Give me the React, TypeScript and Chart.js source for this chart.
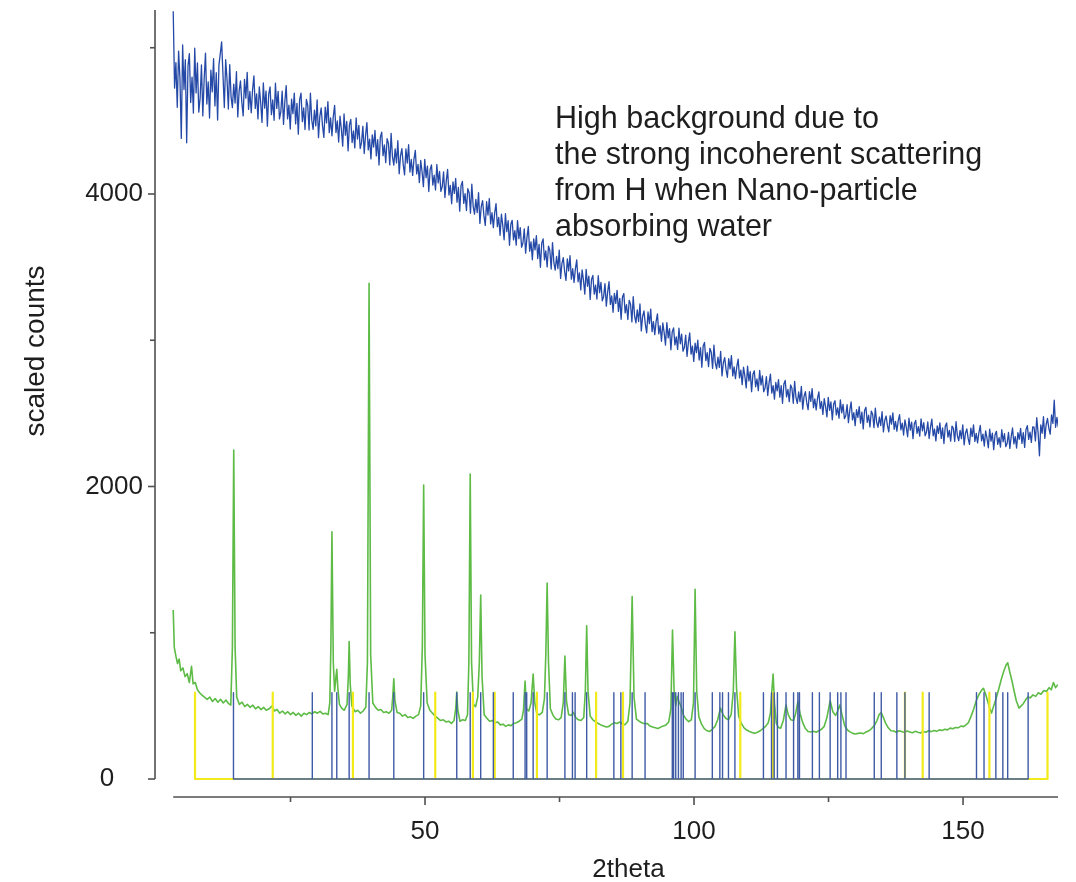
import React, { useEffect, useRef } from 'react';
import { Chart, registerables } from 'chart.js';

Chart.register(...registerables);

// ---- axis ranges & ticks ----
const X_MIN = -0.186;
const X_MAX = 167.65;
const Y_MIN = -123;
const Y_MAX = 5258;
const X_AXIS_START = 3.2;
const xMajorTicks = [50, 100, 150];
const xMinorTicks = [25, 75, 125];
const yMajorTicks = [0, 2000, 4000];
const yMinorTicks = [1000, 3000, 5000];
const xTitle = '2theta';
const yTitle = 'scaled counts';
const annotationLines = [
  'High background due to',
  'the strong incoherent scattering',
  'from H when Nano-particle',
  'absorbing water',
];

// ---- blue (water-loaded sample) scan: 2theta start/step + counts ----
const blueStart = 3.2;
const blueStep = 0.25;
const blueCounts = [
  5250, 4724, 4898, 4593, 4977, 4791, 4380, 5019, 4714, 4918, 4350, 4876, 4960, 4625, 4799, 4553, 4997, 4691, 4896, 4560,
  4655, 4882, 4534, 4786, 4963, 4615, 4767, 4519, 4846, 4698, 4925, 4602, 4829, 4506, 4883, 4960, 5040, 4814, 4591, 4918,
  4782, 4581, 4885, 4666, 4591, 4751, 4622, 4836, 4527, 4704, 4774, 4627, 4534, 4784, 4655, 4832, 4578, 4701, 4555, 4714,
  4808, 4585, 4685, 4513, 4732, 4627, 4489, 4759, 4587, 4704, 4464, 4683, 4732, 4543, 4643, 4504, 4757, 4585, 4702, 4513,
  4562, 4703, 4476, 4632, 4741, 4514, 4607, 4444, 4649, 4549, 4690, 4479, 4620, 4409, 4646, 4690, 4495, 4588, 4441, 4646,
  4605, 4437, 4689, 4505, 4442, 4574, 4466, 4643, 4385, 4531, 4588, 4465, 4387, 4594, 4486, 4632, 4419, 4521, 4398, 4530,
  4606, 4420, 4499, 4355, 4532, 4444, 4327, 4547, 4402, 4496, 4295, 4473, 4510, 4352, 4431, 4315, 4520, 4376, 4469, 4311,
  4351, 4463, 4277, 4402, 4488, 4301, 4375, 4240, 4404, 4321, 4434, 4260, 4372, 4198, 4389, 4423, 4262, 4335, 4214, 4378,
  4347, 4199, 4415, 4254, 4197, 4309, 4213, 4364, 4138, 4263, 4310, 4201, 4131, 4308, 4212, 4337, 4150, 4236, 4127, 4239,
  4298, 4137, 4203, 4078, 4229, 4152, 4050, 4237, 4112, 4190, 4017, 4168, 4199, 4061, 4128, 4027, 4202, 4076, 4155, 4018,
  4049, 4151, 3976, 4090, 4168, 3993, 4059, 3933, 4082, 4004, 4106, 3944, 4045, 3883, 4057, 4086, 3936, 4002, 3887, 4037,
  4008, 3869, 4067, 3916, 3862, 3963, 3873, 4010, 3799, 3913, 3954, 3852, 3785, 3947, 3856, 3969, 3795, 3872, 3770, 3871,
  3934, 3777, 3840, 3718, 3862, 3785, 3687, 3865, 3742, 3817, 3649, 3793, 3820, 3686, 3750, 3650, 3817, 3695, 3770, 3636,
  3665, 3762, 3595, 3703, 3778, 3609, 3673, 3550, 3693, 3618, 3715, 3559, 3656, 3499, 3666, 3693, 3549, 3611, 3501, 3644,
  3614, 3487, 3668, 3530, 3480, 3573, 3490, 3616, 3423, 3526, 3564, 3470, 3409, 3557, 3474, 3578, 3418, 3489, 3395, 3488,
  3549, 3400, 3460, 3344, 3481, 3409, 3315, 3485, 3369, 3439, 3279, 3416, 3443, 3316, 3376, 3282, 3441, 3325, 3396, 3269,
  3298, 3387, 3233, 3332, 3400, 3245, 3303, 3191, 3321, 3252, 3341, 3197, 3286, 3143, 3295, 3319, 3187, 3244, 3142, 3273,
  3247, 3125, 3298, 3167, 3119, 3208, 3128, 3248, 3064, 3164, 3200, 3109, 3051, 3193, 3113, 3213, 3059, 3127, 3038, 3127,
  3180, 3044, 3099, 2993, 3118, 3052, 2967, 3121, 3016, 3080, 2935, 3059, 3084, 2968, 3023, 2937, 3082, 2976, 3041, 2925,
  2950, 3035, 2890, 2985, 3050, 2905, 2960, 2855, 2980, 2915, 3000, 2865, 2950, 2815, 2960, 2985, 2860, 2915, 2820, 2945,
  2918, 2808, 2966, 2847, 2804, 2885, 2814, 2923, 2756, 2847, 2881, 2799, 2747, 2875, 2804, 2895, 2756, 2818, 2738, 2819,
  2871, 2743, 2796, 2696, 2816, 2754, 2674, 2823, 2722, 2785, 2648, 2768, 2791, 2682, 2736, 2655, 2794, 2694, 2757, 2648,
  2673, 2751, 2622, 2709, 2768, 2639, 2690, 2597, 2711, 2654, 2731, 2611, 2689, 2569, 2701, 2725, 2613, 2664, 2580, 2694,
  2671, 2569, 2719, 2607, 2568, 2646, 2580, 2685, 2529, 2616, 2648, 2573, 2525, 2648, 2582, 2669, 2539, 2599, 2524, 2602,
  2647, 2533, 2581, 2493, 2601, 2547, 2476, 2610, 2521, 2578, 2456, 2564, 2586, 2489, 2538, 2467, 2592, 2504, 2561, 2464,
  2484, 2559, 2437, 2520, 2578, 2455, 2505, 2416, 2525, 2472, 2546, 2433, 2508, 2394, 2520, 2542, 2438, 2487, 2407, 2516,
  2492, 2402, 2536, 2438, 2405, 2475, 2417, 2511, 2373, 2451, 2482, 2416, 2374, 2484, 2426, 2504, 2391, 2445, 2379, 2449,
  2492, 2387, 2433, 2352, 2455, 2405, 2340, 2467, 2385, 2440, 2327, 2429, 2452, 2363, 2409, 2344, 2463, 2381, 2436, 2347,
  2371, 2441, 2328, 2406, 2461, 2347, 2393, 2312, 2414, 2364, 2435, 2329, 2400, 2294, 2413, 2435, 2337, 2384, 2310, 2413,
  2397, 2308, 2443, 2346, 2313, 2384, 2327, 2422, 2285, 2364, 2394, 2329, 2288, 2399, 2342, 2421, 2308, 2363, 2298, 2369,
  2417, 2312, 2358, 2277, 2380, 2330, 2265, 2392, 2310, 2365, 2252, 2354, 2377, 2288, 2334, 2269, 2388, 2306, 2361, 2272,
  2296, 2370, 2260, 2342, 2400, 2291, 2341, 2263, 2369, 2323, 2397, 2295, 2369, 2267, 2390, 2416, 2322, 2372, 2302, 2408,
  2406, 2312, 2470, 2367, 2210, 2422, 2364, 2477, 2329, 2424, 2465, 2398, 2358, 2489, 2431, 2590, 2405, 2473, 2406,
];

// ---- green (dry sample) scan: [2theta, counts] ----
const greenScan: [number, number][] = [
  [3.2, 1155], [3.4, 900], [3.7, 840], [4.0, 790], [4.3, 820], [4.6, 740], [5.0, 760], [5.4, 700],
  [5.8, 720], [6.2, 660], [6.6, 770], [6.9, 650], [7.3, 660], [7.7, 610], [8.1, 590], [8.5, 575],
  [9.0, 560], [9.5, 545], [10.0, 560], [10.5, 530], [11.0, 550], [11.5, 525], [12.0, 545], [12.5, 520],
  [13.0, 540], [13.5, 515], [13.9, 505], [14.2, 900], [14.45, 2250], [14.7, 900], [15.0, 560], [15.5, 510],
  [16.0, 525], [16.5, 495], [17.0, 510], [17.5, 490], [18.0, 505], [18.5, 480], [19.0, 495], [19.5, 475],
  [20.0, 490], [20.5, 470], [21.0, 480], [21.6, 500], [22.0, 465], [22.5, 475], [23.0, 450], [23.5, 465],
  [24.0, 445], [24.5, 460], [25.0, 440], [25.5, 455], [26.0, 435], [26.5, 450], [27.0, 430], [27.5, 450],
  [28.0, 440], [28.5, 455], [29.0, 445], [29.5, 460], [30.0, 450], [30.5, 462], [31.0, 445], [31.5, 450],
  [32.0, 440], [32.3, 520], [32.5, 900], [32.7, 1690], [32.95, 800], [33.2, 600], [33.45, 700], [33.6, 750],
  [33.8, 620], [34.1, 510], [34.5, 485], [35.0, 470], [35.5, 510], [35.75, 700], [35.9, 940], [36.1, 650],
  [36.4, 500], [37.0, 460], [37.5, 470], [38.0, 450], [38.5, 465], [39.0, 490], [39.3, 800], [39.6, 3390],
  [39.9, 850], [40.3, 520], [40.8, 490], [41.3, 470], [41.8, 475], [42.3, 455], [42.8, 460], [43.3, 450],
  [43.8, 470], [44.0, 560], [44.2, 685], [44.4, 540], [44.8, 455], [45.3, 450], [45.8, 430], [46.3, 440],
  [46.8, 420], [47.3, 425], [47.8, 415], [48.3, 430], [48.8, 440], [49.2, 500], [49.5, 900], [49.75, 2010],
  [50.0, 850], [50.4, 520], [50.9, 470], [51.4, 450], [51.9, 430], [52.4, 415], [52.9, 400], [53.4, 405],
  [53.9, 390], [54.4, 395], [54.9, 380], [55.4, 400], [55.7, 480], [55.9, 595], [56.1, 470], [56.5, 395],
  [57.0, 405], [57.5, 400], [57.9, 440], [58.15, 800], [58.4, 2085], [58.65, 800], [59.0, 510], [59.4, 495],
  [59.8, 560], [60.1, 800], [60.35, 1258], [60.6, 700], [61.0, 440], [61.5, 415], [62.0, 395], [62.5, 400],
  [63.0, 385], [63.5, 390], [64.0, 370], [64.5, 375], [65.0, 360], [65.5, 370], [66.0, 365], [66.5, 380],
  [67.0, 385], [67.5, 395], [68.0, 410], [68.3, 470], [68.6, 670], [68.85, 480], [69.3, 465], [69.7, 520],
  [70.1, 718], [70.4, 520], [70.8, 445], [71.3, 440], [71.8, 455], [72.2, 550], [72.45, 850], [72.7, 1340],
  [72.95, 800], [73.3, 480], [73.8, 435], [74.3, 410], [74.8, 405], [75.3, 420], [75.7, 520], [76.0, 840],
  [76.3, 530], [76.7, 440], [77.2, 435], [77.6, 455], [78.0, 420], [78.5, 405], [79.0, 400], [79.5, 420],
  [79.8, 600], [80.05, 1048], [80.3, 600], [80.7, 430], [81.2, 405], [81.7, 390], [82.2, 380], [82.7, 370],
  [83.2, 362], [83.7, 355], [84.2, 360], [84.7, 375], [85.2, 385], [85.7, 380], [86.2, 390], [86.7, 375],
  [87.2, 372], [87.7, 395], [88.1, 520], [88.5, 1247], [88.85, 560], [89.3, 410], [89.8, 395], [90.3, 385],
  [90.8, 378], [91.3, 380], [91.8, 362], [92.3, 355], [92.8, 350], [93.3, 345], [93.8, 355], [94.3, 362],
  [94.8, 370], [95.3, 390], [95.7, 480], [96.0, 1019], [96.3, 600], [96.6, 500], [96.9, 565], [97.2, 530],
  [97.6, 495], [98.0, 440], [98.5, 410], [99.0, 392], [99.5, 405], [99.9, 520], [100.2, 1297], [100.5, 600],
  [100.9, 425], [101.4, 375], [101.9, 345], [102.4, 330], [102.9, 325], [103.4, 340], [103.9, 360], [104.4, 405],
  [104.9, 485], [105.4, 440], [105.9, 415], [106.4, 405], [106.9, 440], [107.3, 600], [107.6, 1007], [107.9, 620],
  [108.3, 430], [108.8, 380], [109.3, 350], [109.8, 335], [110.3, 325], [110.8, 318], [111.3, 312], [111.8, 320],
  [112.3, 330], [112.8, 345], [113.3, 360], [113.8, 385], [114.2, 450], [114.5, 620], [114.7, 718], [114.95, 520],
  [115.3, 380], [115.7, 352], [116.1, 348], [116.6, 400], [117.1, 506], [117.5, 440], [118.0, 405], [118.5, 400],
  [118.9, 450], [119.3, 529], [119.7, 450], [120.2, 385], [120.7, 345], [121.2, 325], [121.7, 322], [122.2, 326],
  [122.7, 320], [123.2, 330], [123.7, 340], [124.2, 360], [124.7, 420], [125.3, 535], [125.8, 460], [126.3, 435],
  [126.7, 465], [127.1, 506], [127.5, 440], [128.0, 365], [128.5, 335], [129.0, 322], [129.5, 312], [130.0, 308],
  [130.5, 312], [131.0, 315], [131.5, 310], [132.0, 322], [132.5, 330], [133.0, 345], [133.5, 365], [134.0, 400],
  [134.4, 440], [134.8, 455], [135.2, 420], [135.6, 382], [136.1, 350], [136.6, 330], [137.1, 328], [137.6, 320],
  [138.1, 330], [138.6, 325], [139.1, 318], [139.6, 328], [140.1, 322], [140.6, 316], [141.1, 326], [141.6, 320],
  [142.1, 315], [142.6, 325], [143.1, 320], [143.6, 330], [144.1, 324], [144.6, 332], [145.1, 326], [145.6, 336],
  [146.1, 332], [146.6, 340], [147.1, 336], [147.6, 348], [148.1, 344], [148.6, 352], [149.1, 350], [149.6, 362],
  [150.1, 358], [150.6, 372], [151.0, 385], [151.5, 430], [152.0, 480], [152.5, 540], [153.0, 580], [153.5, 610],
  [153.8, 620], [154.2, 580], [154.6, 530], [155.0, 480], [155.3, 451], [155.7, 500], [156.1, 545], [156.6, 610],
  [157.1, 680], [157.6, 740], [158.0, 780], [158.3, 795], [158.7, 730], [159.1, 670], [159.5, 600], [159.9, 535],
  [160.4, 485], [160.8, 500], [161.2, 515], [161.6, 540], [162.0, 560], [162.5, 555], [163.0, 575], [163.5, 565],
  [164.0, 590], [164.5, 580], [165.0, 605], [165.5, 598], [166.0, 625], [166.4, 610], [166.8, 660], [167.2, 625],
  [167.6, 645],
];

// ---- reference stick patterns (2theta positions) ----
const refHeight = 590;
const yellowRefs = [
  7.25, 21.7, 36.6, 51.9, 58.9, 62.95, 70.8, 81.8, 86.8, 108.6, 114.7, 139.2, 142.5, 154.9, 165.7,
];
const blueRefs = [
  14.4, 29.05, 32.7, 33.6, 35.9, 39.6, 44.2, 49.75, 55.9, 58.4, 60.35, 62.7, 66.4, 68.6, 68.9, 70.1,
  72.7, 76.0, 77.4, 77.9, 80.05, 85.1, 86.4, 88.5, 90.9, 95.96, 96.2, 96.6, 97.1, 97.6, 98.0, 100.2,
  103.4, 104.8, 105.3, 106.4, 107.6, 112.9, 114.4, 114.9, 115.5, 117.1, 118.5, 119.3, 119.6, 122.0,
  123.3, 125.3, 126.7, 127.3, 128.25, 133.5, 134.8, 137.7, 139.2, 143.7, 152.5, 153.9, 156.1, 157.4,
  158.3, 162.1,
];

const FONT = "'Liberation Sans', Arial, Helvetica, sans-serif";
const TEXT_COLOR = '#1e1e1e';
const AXIS_COLOR = '#505050';

function stickPoints(xs: number[]) {
  const pts: { x: number; y: number }[] = [];
  xs.forEach((x) => {
    pts.push({ x, y: 0 }, { x, y: refHeight }, { x, y: 0 });
  });
  return pts;
}

const axesPlugin = {
  id: 'customAxes',
  afterDraw(chart: any) {
    const { ctx, chartArea, scales } = chart;
    const xs = scales.x;
    const ys = scales.y;
    ctx.save();
    ctx.strokeStyle = AXIS_COLOR;
    ctx.lineWidth = 1.6;
    const ax = chartArea.left;
    ctx.beginPath();
    ctx.moveTo(ax, ys.getPixelForValue(0));
    ctx.lineTo(ax, chartArea.top);
    ctx.stroke();
    yMajorTicks.forEach((v) => {
      const p = ys.getPixelForValue(v);
      ctx.beginPath();
      ctx.moveTo(ax - 7, p);
      ctx.lineTo(ax, p);
      ctx.stroke();
    });
    yMinorTicks.forEach((v) => {
      const p = ys.getPixelForValue(v);
      ctx.beginPath();
      ctx.moveTo(ax - 5, p);
      ctx.lineTo(ax, p);
      ctx.stroke();
    });
    const ay = chartArea.bottom;
    ctx.beginPath();
    ctx.moveTo(xs.getPixelForValue(X_AXIS_START), ay);
    ctx.lineTo(chartArea.right, ay);
    ctx.stroke();
    xMajorTicks.forEach((v) => {
      const p = xs.getPixelForValue(v);
      ctx.beginPath();
      ctx.moveTo(p, ay);
      ctx.lineTo(p, ay + 8);
      ctx.stroke();
    });
    xMinorTicks.forEach((v) => {
      const p = xs.getPixelForValue(v);
      ctx.beginPath();
      ctx.moveTo(p, ay);
      ctx.lineTo(p, ay + 5);
      ctx.stroke();
    });

    ctx.fillStyle = TEXT_COLOR;
    ctx.font = `26px ${FONT}`;
    ctx.textAlign = 'center';
    ctx.textBaseline = 'alphabetic';
    ctx.fillText(xTitle, (chartArea.left + chartArea.right) / 2 + 22, chartArea.bottom + 80);

    ctx.save();
    ctx.translate(44, 351);
    ctx.rotate(-Math.PI / 2);
    ctx.font = `28px ${FONT}`;
    ctx.textAlign = 'center';
    ctx.fillText(yTitle, 0, 0);
    ctx.restore();

    ctx.font = `30.5px ${FONT}`;
    ctx.textAlign = 'left';
    annotationLines.forEach((line, i) => {
      ctx.fillText(line, 555, 127.5 + i * 36.3);
    });
    ctx.restore();
  },
};

export default function App() {
  const canvasRef = useRef<HTMLCanvasElement | null>(null);

  useEffect(() => {
    if (!canvasRef.current) return;
    const blueData = blueCounts.map((v, i) => ({ x: blueStart + i * blueStep, y: v }));
    const greenData = greenScan.map(([x, y]) => ({ x, y }));

    const chart = new Chart(canvasRef.current, {
      type: 'line',
      data: {
        datasets: [
          {
            label: 'reference phase 1',
            data: stickPoints(blueRefs),
            borderColor: '#3f5ba6',
            borderWidth: 1.4,
            pointRadius: 0,
            tension: 0,
          },
          {
            label: 'reference phase 2',
            data: stickPoints(yellowRefs),
            borderColor: '#f3ea1a',
            borderWidth: 2.2,
            pointRadius: 0,
            tension: 0,
          },
          {
            label: 'dry',
            data: greenData,
            borderColor: '#5dbb46',
            borderWidth: 1.6,
            pointRadius: 0,
            tension: 0,
          },
          {
            label: 'water absorbed',
            data: blueData,
            borderColor: '#2549a6',
            borderWidth: 1.3,
            pointRadius: 0,
            tension: 0,
          },
        ],
      },
      options: {
        animation: false,
        responsive: false,
        devicePixelRatio: 1,
        parsing: false as any,
        normalized: true,
        layout: { padding: { left: 0, right: 18, top: 10, bottom: 0 } },
        plugins: {
          legend: { display: false },
          tooltip: { enabled: false },
        },
        elements: { line: { borderJoinStyle: 'round' } },
        scales: {
          x: {
            type: 'linear',
            min: X_MIN,
            max: X_MAX,
            afterBuildTicks: (scale: any) => {
              scale.ticks = [...xMinorTicks, ...xMajorTicks]
                .sort((a, b) => a - b)
                .map((value) => ({ value }));
            },
            afterFit: (scale: any) => {
              scale.height = 85;
              scale.paddingLeft = 0;
              scale.paddingRight = 0;
            },
            grid: { display: false, drawTicks: false },
            border: { display: false },
            ticks: {
              autoSkip: false,
              maxRotation: 0,
              padding: 19,
              color: TEXT_COLOR,
              font: { family: FONT, size: 26 },
              callback: (v: any) => (xMajorTicks.includes(Number(v)) ? String(v) : ''),
            },
          },
          y: {
            type: 'linear',
            min: Y_MIN,
            max: Y_MAX,
            afterBuildTicks: (scale: any) => {
              scale.ticks = [...yMajorTicks, ...yMinorTicks]
                .sort((a, b) => a - b)
                .map((value) => ({ value }));
            },
            afterFit: (scale: any) => {
              scale.width = 155;
              scale.paddingTop = 0;
              scale.paddingBottom = 0;
            },
            grid: { display: false, drawTicks: false },
            border: { display: false },
            ticks: {
              autoSkip: false,
              padding: 12,
              color: TEXT_COLOR,
              font: { family: FONT, size: 26 },
              callback: (v: any) => {
                const n = Number(v);
                if (n === 0) return '0    ';
                return yMajorTicks.includes(n) ? String(n) : '';
              },
            },
          },
        },
      },
      plugins: [axesPlugin],
    });
    return () => chart.destroy();
  }, []);

  return (
    <div style={{ position: 'absolute', left: 0, top: 0, width: 1076, height: 882, background: '#fff' }}>
      <canvas ref={canvasRef} width={1076} height={882} />
    </div>
  );
}
